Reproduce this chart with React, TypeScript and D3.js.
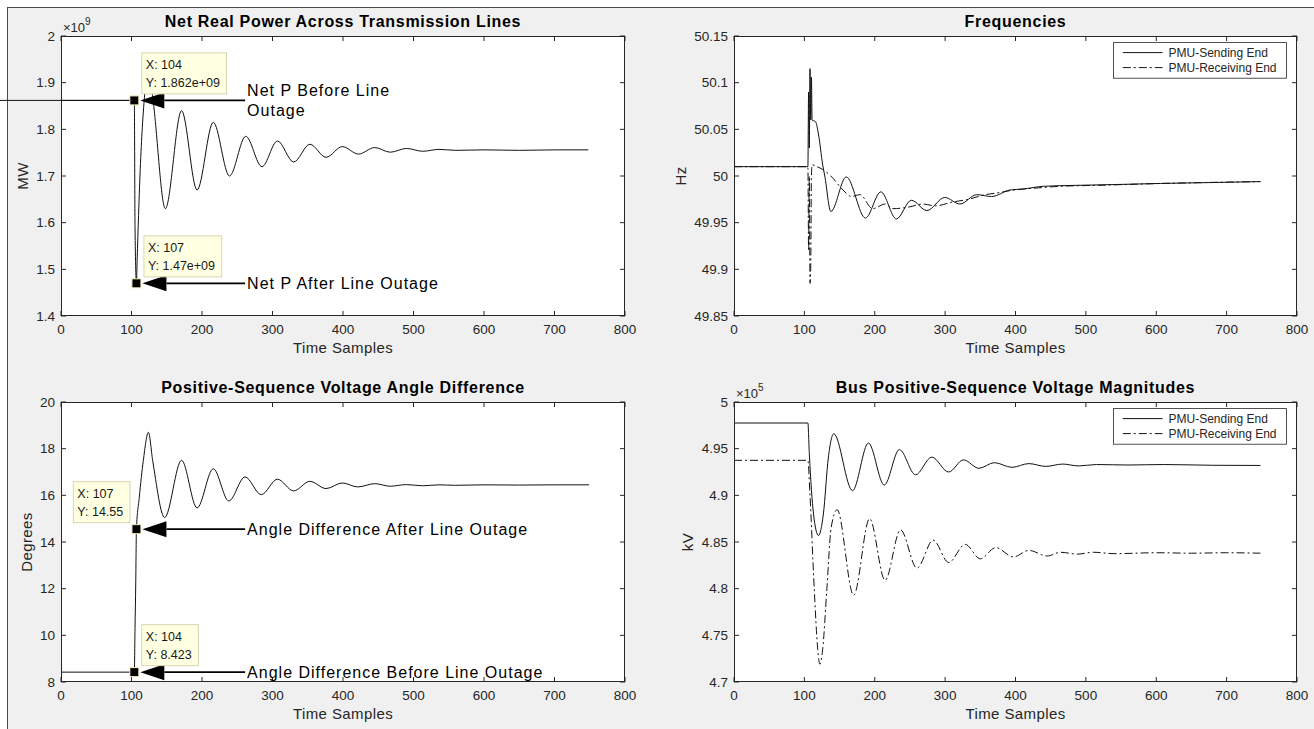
import React from "react";
import * as d3 from "d3";

const W = 1314;
const H = 729;
const FONT = "'Liberation Sans', Arial, Helvetica, sans-serif";
const INK = "#262626";

// x axis shared by every plot
const sampleTicks = [0, 100, 200, 300, 400, 500, 600, 700, 800];

// net real power across the lines (W)
const powerSamples = [0, 104, 105, 107, 108, 112, 118, 124, 130.6, 148, 171, 193, 216, 239, 262, 285, 307, 330, 353, 376, 399, 422, 445, 467, 490, 513, 536, 560, 600, 650, 700, 748];
const powerValues = [1.862e9, 1.862e9, 1.59e9, 1.47e9, 1.52e9, 1.7e9, 1.862e9, 1.93e9, 1.862e9, 1.63e9, 1.84e9, 1.67e9, 1.815e9, 1.7e9, 1.785e9, 1.72e9, 1.775e9, 1.73e9, 1.768e9, 1.74e9, 1.763e9, 1.747e9, 1.761e9, 1.751e9, 1.759e9, 1.753e9, 1.757e9, 1.755e9, 1.756e9, 1.755e9, 1.756e9, 1.756e9];
const powerTicks = [1.4e9, 1.5e9, 1.6e9, 1.7e9, 1.8e9, 1.9e9, 2e9];
const powerTickText = ["1.4", "1.5", "1.6", "1.7", "1.8", "1.9", "2"];

// frequencies (Hz)
const freqSendSamples = [0, 105, 106, 107, 108, 109, 110, 111, 116, 120, 126, 129, 137.6, 159.5, 186.8, 208.7, 230.7, 252, 274, 299.5, 321, 345, 366, 392, 410, 440, 487, 550, 606, 680, 748];
const freqSendValues = [50.01, 50.01, 50.09, 50.03, 50.115, 50.06, 50.106, 50.06, 50.058, 50.045, 50.012, 50.0, 49.962, 49.999, 49.955, 49.983, 49.954, 49.974, 49.963, 49.977, 49.97, 49.98, 49.978, 49.985, 49.986, 49.989, 49.99, 49.991, 49.992, 49.993, 49.994];
const freqRecvSamples = [0, 105, 106, 107, 108, 109, 110, 111, 118, 126, 137.6, 155, 167, 179, 197, 215, 226, 250, 268, 286, 310, 333, 357, 375, 398, 428, 464, 517, 606, 748];
const freqRecvValues = [50.01, 50.01, 49.92, 50.0, 49.885, 49.9, 50.0, 50.012, 50.01, 50.007, 50.0, 49.985, 49.978, 49.98, 49.965, 49.97, 49.965, 49.967, 49.97, 49.968, 49.972, 49.975, 49.98, 49.982, 49.985, 49.987, 49.989, 49.99, 49.992, 49.994];
const freqTicks = [49.85, 49.9, 49.95, 50, 50.05, 50.1, 50.15];
const freqTickText = ["49.85", "49.9", "49.95", "50", "50.05", "50.1", "50.15"];

// angle difference (degrees)
const angleSamples = [0, 104, 105, 106, 107, 111, 116.8, 124, 130, 147, 171, 193, 216, 238, 261, 284, 307, 330, 353, 376, 399, 421, 445, 467, 490, 513, 536, 560, 600, 650, 700, 749];
const angleValues = [8.423, 8.423, 10.3, 12.2, 14.55, 15.9, 17.5, 18.7, 17.5, 15.05, 17.5, 15.46, 17.14, 15.76, 16.79, 16.03, 16.69, 16.19, 16.6, 16.29, 16.53, 16.36, 16.5, 16.39, 16.46, 16.41, 16.45, 16.43, 16.45, 16.44, 16.45, 16.45];
const angleTicks = [8, 10, 12, 14, 16, 18, 20];
const angleTickText = ["8", "10", "12", "14", "16", "18", "20"];

// bus voltage magnitudes (kV)
const voltSendSamples = [0, 105, 107, 113, 120, 127, 134, 141.7, 168.4, 191, 213.5, 235, 258, 281, 305, 326, 348, 370, 395, 419, 443, 467, 490, 515, 560, 610, 680, 748];
const voltSendValues = [4.9775e5, 4.9775e5, 4.945e5, 4.88e5, 4.857e5, 4.88e5, 4.94e5, 4.966e5, 4.905e5, 4.956e5, 4.911e5, 4.949e5, 4.922e5, 4.941e5, 4.925e5, 4.938e5, 4.929e5, 4.935e5, 4.93e5, 4.934e5, 4.931e5, 4.9335e5, 4.9315e5, 4.933e5, 4.9325e5, 4.933e5, 4.9322e5, 4.932e5];
const voltRecvSamples = [0, 105, 108, 114, 119, 122, 126, 132, 138, 146.5, 170, 192.7, 214.7, 236.6, 260, 283, 305, 328.5, 350, 372, 397, 419, 445, 464, 487.5, 511, 540, 600, 650, 700, 748];
const voltRecvValues = [4.9375e5, 4.9375e5, 4.9e5, 4.8e5, 4.735e5, 4.719e5, 4.735e5, 4.8e5, 4.865e5, 4.8846e5, 4.793e5, 4.875e5, 4.809e5, 4.863e5, 4.822e5, 4.852e5, 4.828e5, 4.8475e5, 4.832e5, 4.844e5, 4.834e5, 4.841e5, 4.835e5, 4.839e5, 4.837e5, 4.839e5, 4.8375e5, 4.8385e5, 4.838e5, 4.8385e5, 4.838e5];
const voltTicks = [4.7e5, 4.75e5, 4.8e5, 4.85e5, 4.9e5, 4.95e5, 5e5];
const voltTickText = ["4.7", "4.75", "4.8", "4.85", "4.9", "4.95", "5"];

const seriesNames = ["PMU-Sending End", "PMU-Receiving End"];
const DASHDOT = "8,3,2,3";

type Series = { xs: number[]; ys: number[]; dash?: string };
type Tip = { x: number; y: number; lines: string[]; side: "left" | "right" };
type Note = { x: number; y: number; lines: string[]; textAt: number };
type Lead = { y: number; toX: number };

type PanelProps = {
  id: string;
  left: number;
  top: number;
  width: number;
  height: number;
  title: string;
  yLabel: string;
  yTicks: number[];
  yTickText: string[];
  exponent?: string;
  series: Series[];
  legend?: boolean;
  tips?: Tip[];
  notes?: Note[];
  lead?: Lead;
};

// rough Arial advance widths, enough to size the data tip boxes
const widths: Record<string, number> = { ".": 0.278, ":": 0.278, " ": 0.278, X: 0.667, Y: 0.667, e: 0.556, "+": 0.584 };
function textW(s: string, fs: number) {
  let w = 0;
  for (const c of s) w += widths[c] ?? 0.556;
  return w * fs;
}

function Panel(p: PanelProps) {
  const x = d3.scaleLinear().domain([0, 800]).range([p.left, p.left + p.width]);
  const y = d3
    .scaleLinear()
    .domain([p.yTicks[0], p.yTicks[p.yTicks.length - 1]])
    .range([p.top + p.height, p.top]);

  const bottom = p.top + p.height;
  const right = p.left + p.width;
  const tickLen = 5;
  const labelW = d3.max(p.yTickText, (t) => textW(t, 13.5)) ?? 0;

  const path = (s: Series) =>
    d3
      .line<number>()
      .x((d, i) => x(s.xs[i]))
      .y((d) => y(d))
      .curve(d3.curveMonotoneX)(s.ys) ?? "";

  const legendLeft = right - 183.5;
  const legendTop = p.top + 6.6;

  return (
    <g>
      <defs>
        <clipPath id={`clip-${p.id}`}>
          <rect x={p.left} y={p.top} width={p.width} height={p.height} />
        </clipPath>
      </defs>
      <rect x={p.left} y={p.top} width={p.width} height={p.height} fill="#fff" />

      {/* ticks, inward on all four sides */}
      {sampleTicks.map((t) => (
        <g key={`xt${t}`} stroke={INK} strokeWidth={1}>
          <line x1={x(t)} x2={x(t)} y1={bottom} y2={bottom - tickLen} />
          <line x1={x(t)} x2={x(t)} y1={p.top} y2={p.top + tickLen} />
        </g>
      ))}
      {p.yTicks.map((t) => (
        <g key={`yt${t}`} stroke={INK} strokeWidth={1}>
          <line x1={p.left} x2={p.left + tickLen} y1={y(t)} y2={y(t)} />
          <line x1={right} x2={right - tickLen} y1={y(t)} y2={y(t)} />
        </g>
      ))}

      <g clipPath={`url(#clip-${p.id})`}>
        {p.series.map((s, i) => (
          <path key={i} d={path(s)} fill="none" stroke="#111" strokeWidth={1} strokeDasharray={s.dash} />
        ))}
      </g>

      <rect x={p.left + 0.5} y={p.top + 0.5} width={p.width - 1} height={p.height - 1} fill="none" stroke={INK} strokeWidth={1} />

      {/* tick labels */}
      <g fontFamily={FONT} fontSize={13.5} fill={INK}>
        {sampleTicks.map((t) => (
          <text key={`xl${t}`} x={x(t)} y={bottom + 13.5} dy="0.35em" textAnchor="middle">
            {t}
          </text>
        ))}
        {p.yTicks.map((t, i) => (
          <text key={`yl${t}`} x={p.left - 6} y={y(t)} dy="0.35em" textAnchor="end">
            {p.yTickText[i]}
          </text>
        ))}
      </g>

      {p.exponent && (
        <text x={p.left + 2} y={p.top - 4} fontFamily={FONT} fontSize={13} fill={INK}>
          ×10
          <tspan dy={-7} fontSize={10}>
            {p.exponent}
          </tspan>
        </text>
      )}

      <text
        x={(p.left + right) / 2}
        y={p.top - 9}
        textAnchor="middle"
        fontFamily={FONT}
        fontWeight="bold"
        fontSize={16}
        letterSpacing={0.7}
        fill="#000"
      >
        {p.title}
      </text>
      <text
        x={(p.left + right) / 2}
        y={bottom + 37}
        textAnchor="middle"
        fontFamily={FONT}
        fontSize={15}
        letterSpacing={0.4}
        fill={INK}
      >
        Time Samples
      </text>
      <text
        transform={`translate(${p.left - 6 - labelW - 13.5},${p.top + p.height / 2}) rotate(-90)`}
        dy="0.35em"
        textAnchor="middle"
        fontFamily={FONT}
        fontSize={15}
        letterSpacing={0.4}
        fill={INK}
      >
        {p.yLabel}
      </text>

      {p.legend && (
        <g fontFamily={FONT} fontSize={12} fill={INK}>
          <rect x={legendLeft} y={legendTop} width={173} height={35.6} fill="#fff" stroke={INK} strokeWidth={0.8} />
          {p.series.map((s, i) => (
            <g key={`lg${i}`}>
              <line
                x1={legendLeft + 9.3}
                x2={legendLeft + 49}
                y1={legendTop + 10 + i * 15}
                y2={legendTop + 10 + i * 15}
                stroke="#111"
                strokeDasharray={s.dash}
              />
              <text x={legendLeft + 55} y={legendTop + 10 + i * 15} dy="0.35em">
                {seriesNames[i]}
              </text>
            </g>
          ))}
        </g>
      )}

      {p.lead && (
        <line x1={0} x2={x(p.lead.toX)} y1={y(p.lead.y)} y2={y(p.lead.y)} stroke="#111" strokeWidth={1} />
      )}

      {/* arrows with their captions */}
      {(p.notes ?? []).map((n, i) => {
        const mx = x(n.x);
        const my = y(n.y);
        const tip = mx + 6;
        const base = tip + 24;
        const tx = x(n.textAt);
        return (
          <g key={`n${i}`}>
            <line x1={base} x2={tx - 2} y1={my} y2={my} stroke="#000" strokeWidth={1.6} />
            <path d={`M${tip},${my}L${base},${my - 8}L${base},${my + 8}Z`} fill="#000" />
            {n.lines.map((l, j) => (
              <text
                key={j}
                x={tx}
                y={my + (j - (n.lines.length - 1) / 2) * 20}
                dy="0.35em"
                fontFamily={FONT}
                fontSize={16}
                letterSpacing={1}
                fill="#000"
              >
                {l}
              </text>
            ))}
          </g>
        );
      })}

      {/* data tips */}
      {(p.tips ?? []).map((t, i) => {
        const mx = x(t.x);
        const my = y(t.y);
        const bw = (d3.max(t.lines, (l) => textW(l, 12.5)) ?? 0) + 10;
        const bh = 41;
        const bx = t.side === "right" ? mx + 7 : mx - 7 - bw;
        const by = my - 7 - bh;
        return (
          <g key={`t${i}`}>
            <rect x={bx + 0.5} y={by + 0.5} width={bw} height={bh} fill="#ffffe1" stroke="#d8d6b0" strokeWidth={1} />
            {t.lines.map((l, j) => (
              <text key={j} x={bx + 4.5} y={by + 12.5 + j * 17.6} dy="0.35em" fontFamily={FONT} fontSize={12.5} fill="#1a1a1a">
                {l}
              </text>
            ))}
            <rect x={mx - 4.5} y={my - 4.5} width={9} height={9} fill="#000" stroke="#f4f0c0" strokeWidth={1} />
          </g>
        );
      })}
    </g>
  );
}

export default function App() {
  const colL = 61;
  const colR = 734;
  const rowT = 36;
  const rowB = 402;
  const pw = 564;
  const ph = 280;

  return (
    <svg
      width={W}
      height={H}
      viewBox={`0 0 ${W} ${H}`}
      style={{ position: "absolute", left: 0, top: 0, display: "block" }}
    >
      <rect width={W} height={H} fill="#fff" />
      <rect x={7} y={7} width={W - 7} height={H - 7} fill="#f0f0f0" />
      <line x1={7} x2={W} y1={7.5} y2={7.5} stroke="#4a4a4a" />
      <line x1={7.5} x2={7.5} y1={7} y2={H} stroke="#4a4a4a" />

      <Panel
        id="power"
        left={colL}
        top={rowT}
        width={pw}
        height={ph}
        title="Net Real Power Across Transmission Lines"
        yLabel="MW"
        yTicks={powerTicks}
        yTickText={powerTickText}
        exponent="9"
        series={[{ xs: powerSamples, ys: powerValues }]}
        lead={{ y: 1.862e9, toX: 104 }}
        notes={[
          { x: 104, y: 1.862e9, lines: ["Net P Before Line", "Outage"], textAt: 264 },
          { x: 107, y: 1.47e9, lines: ["Net P After Line Outage"], textAt: 264 },
        ]}
        tips={[
          { x: 104, y: 1.862e9, lines: ["X: 104", "Y: 1.862e+09"], side: "right" },
          { x: 107, y: 1.47e9, lines: ["X: 107", "Y: 1.47e+09"], side: "right" },
        ]}
      />
      <Panel
        id="freq"
        left={colR}
        top={rowT}
        width={pw - 1}
        height={ph}
        title="Frequencies"
        yLabel="Hz"
        yTicks={freqTicks}
        yTickText={freqTickText}
        legend
        series={[
          { xs: freqSendSamples, ys: freqSendValues },
          { xs: freqRecvSamples, ys: freqRecvValues, dash: DASHDOT },
        ]}
      />
      <Panel
        id="angle"
        left={colL}
        top={rowB}
        width={pw}
        height={ph}
        title="Positive-Sequence Voltage Angle Difference"
        yLabel="Degrees"
        yTicks={angleTicks}
        yTickText={angleTickText}
        series={[{ xs: angleSamples, ys: angleValues }]}
        notes={[
          { x: 107, y: 14.55, lines: ["Angle Difference After Line Outage"], textAt: 264 },
          { x: 104, y: 8.423, lines: ["Angle Difference Before Line Outage"], textAt: 264 },
        ]}
        tips={[
          { x: 107, y: 14.55, lines: ["X: 107", "Y: 14.55"], side: "left" },
          { x: 104, y: 8.423, lines: ["X: 104", "Y: 8.423"], side: "right" },
        ]}
      />
      <Panel
        id="volt"
        left={colR}
        top={rowB}
        width={pw - 1}
        height={ph}
        title="Bus Positive-Sequence Voltage Magnitudes"
        yLabel="kV"
        yTicks={voltTicks}
        yTickText={voltTickText}
        exponent="5"
        legend
        series={[
          { xs: voltSendSamples, ys: voltSendValues },
          { xs: voltRecvSamples, ys: voltRecvValues, dash: DASHDOT },
        ]}
      />
    </svg>
  );
}
